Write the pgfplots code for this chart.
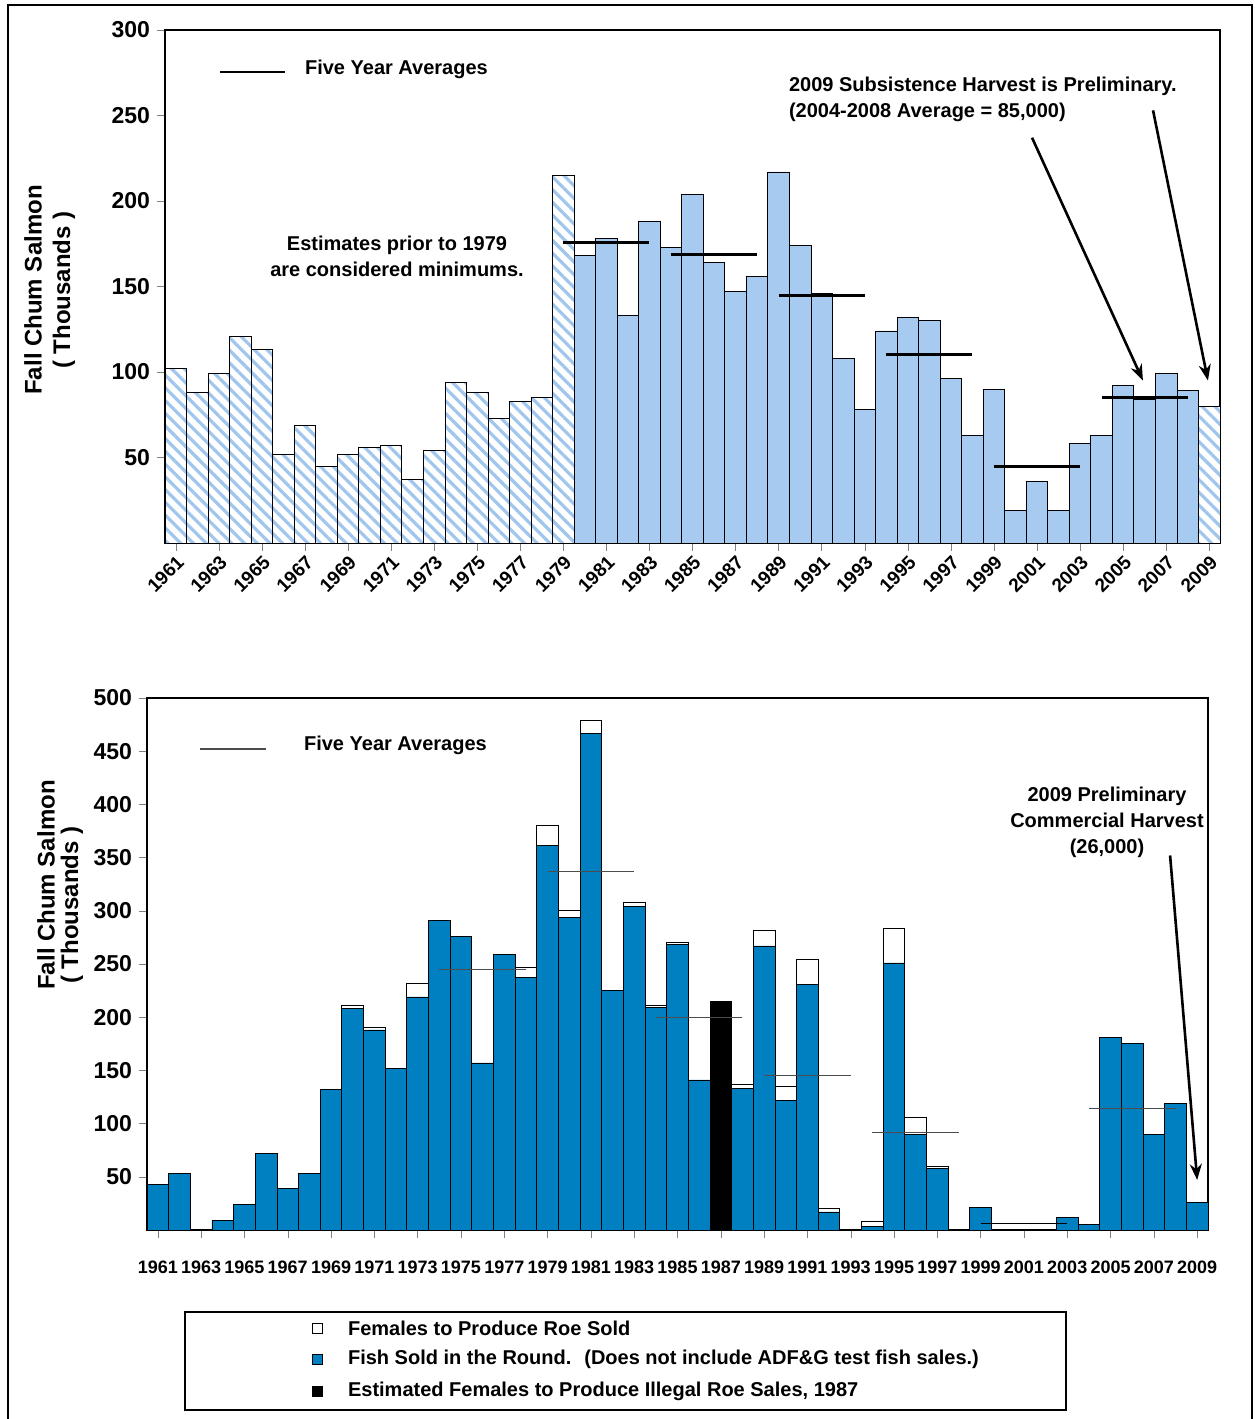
\documentclass[border=0pt]{standalone}
\usepackage{pgfplots}
\pgfplotsset{compat=1.18}
\usepackage{fontspec}
\setmainfont{Liberation Sans}
\usetikzlibrary{patterns.meta,arrows.meta}
\definecolor{lb}{RGB}{166,202,240}
\definecolor{hb}{RGB}{160,198,238}
\definecolor{db}{RGB}{0,128,192}
\begin{document}
\begin{tikzpicture}
\begin{scope}[x=0.5pt,y=-0.5pt,shift={(0pt,709.5pt)}]
\path[use as bounding box] (0,0) rectangle (1254,1419);
\draw[line width=0.8pt] (8,1419) -- (8,5) -- (1252,5) -- (1252,1419);
\node[rotate=90,font=\bfseries\fontsize{12}{14}\selectfont] at (33,290) {Fall Chum Salmon};
\node[rotate=90,font=\bfseries\fontsize{12}{14}\selectfont] at (64,290) {( Thousands )};
\node[rotate=90,font=\bfseries\fontsize{12}{14}\selectfont] at (46,885) {Fall Chum Salmon};
\node[rotate=90,font=\bfseries\fontsize{12}{14}\selectfont] at (72,905) {( Thousands )};
\draw[line width=1.3pt] (220,72) -- (285,72);
\node[anchor=west,font=\bfseries\fontsize{10}{12}\selectfont] at (298,69) {Five Year Averages};
\node[align=center,font=\bfseries\fontsize{10}{13}\selectfont] at (397,256) {Estimates prior to 1979\\are considered minimums.};
\node[anchor=west,font=\bfseries\fontsize{10}{12}\selectfont] at (782,86) {2009 Subsistence Harvest is Preliminary.};
\node[anchor=west,font=\bfseries\fontsize{10}{12}\selectfont] at (782,112) {(2004-2008 Average = 85,000)};
\draw[gray!60!black,line width=0.6pt] (200,749) -- (266,749);
\node[anchor=west,font=\bfseries\fontsize{10}{12}\selectfont] at (297,745) {Five Year Averages};
\node[align=center,font=\bfseries\fontsize{10}{13}\selectfont] at (1107,822) {2009 Preliminary\\Commercial Harvest\\(26,000)};
\draw[line width=0.6pt] (185,1312) rectangle (1066,1410);
\draw[line width=0.4pt,fill=white] (312,1323) rectangle (322,1333);
\draw[line width=0.4pt,fill=db] (312,1354) rectangle (322,1364);
\draw[line width=0.4pt,fill=black] (312,1386) rectangle (322,1396);
\node[anchor=west,font=\bfseries\fontsize{10}{12}\selectfont] at (341,1328) {Females to Produce Roe Sold};
\node[anchor=west,font=\bfseries\fontsize{10}{12}\selectfont] at (341,1359) {Fish Sold in the Round.~ (Does not include ADF\&G test fish sales.)};
\node[anchor=west,font=\bfseries\fontsize{10}{12}\selectfont] at (341,1391) {Estimated Females to Produce Illegal Roe Sales, 1987};
\end{scope}
% top axis
\begin{axis}[at={(82.5pt,438pt)},anchor=south west,scale only axis,
 width=527.5pt,height=256.5pt,xmin=1960.5,xmax=2009.5,ymin=0,ymax=300,
 ytick={50,100,...,300},xtick={1961,1963,...,2009},
 xtick pos=bottom,ytick pos=left,
 tick align=outside,major tick length=4pt,
 /pgf/number format/assume math mode=true,
 /pgf/number format/1000 sep={},
 yticklabel style={font=\bfseries\fontsize{11.5}{13}\selectfont},
 xticklabel style={font=\bfseries\fontsize{9.5}{11}\selectfont,rotate=45,anchor=north east,inner sep=1pt},
 axis line style={line width=0.6pt},clip=false]
\addplot[ybar,bar width=1,bar shift=0pt,draw=black,line width=0.4pt,fill=white,
 postaction={pattern={Lines[angle=-45,distance=4.5pt,line width=1.6pt]},pattern color=hb}]
 coordinates {(1961,102)(1962,88)(1963,99)(1964,121)(1965,113)(1966,52)(1967,69)(1968,45)(1969,52)(1970,56)(1971,57)(1972,37)(1973,54)(1974,94)(1975,88)(1976,73)(1977,83)(1978,85)(1979,215)(2009,80)};
\addplot[ybar,bar width=1,bar shift=0pt,draw=black,line width=0.4pt,fill=lb]
 coordinates {(1980,168)(1981,178)(1982,133)(1983,188)(1984,173)(1985,204)(1986,164)(1987,147)(1988,156)(1989,217)(1990,174)(1991,146)(1992,108)(1993,78)(1994,124)(1995,132)(1996,130)(1997,96)(1998,63)(1999,90)(2000,19)(2001,36)(2002,19)(2003,58)(2004,63)(2005,92)(2006,84)(2007,99)(2008,89)};
\addplot[black,line width=1.5pt] coordinates {(1979,176)(1983,176)};
\addplot[black,line width=1.5pt] coordinates {(1984,169)(1988,169)};
\addplot[black,line width=1.5pt] coordinates {(1989,145)(1993,145)};
\addplot[black,line width=1.5pt] coordinates {(1994,110)(1998,110)};
\addplot[black,line width=1.5pt] coordinates {(1999,45)(2003,45)};
\addplot[black,line width=1.5pt] coordinates {(2004,85)(2008,85)};
\draw[line width=1.3pt,-{Stealth[length=8pt,width=6pt]}] (axis cs:2000.77,237) -- (axis cs:2005.92,95);
\draw[line width=1.3pt,-{Stealth[length=8pt,width=6pt]}] (axis cs:2006.39,253) -- (axis cs:2008.94,95);
\end{axis}
% bottom axis
\begin{axis}[at={(73.5pt,94.5pt)},anchor=south west,scale only axis,
 width=530.5pt,height=266pt,xmin=1960.5,xmax=2009.5,ymin=0,ymax=500,
 ytick={50,100,...,500},xtick={1961,1963,...,2009},
 xtick pos=bottom,ytick pos=left,
 tick align=outside,major tick length=4pt,
 /pgf/number format/assume math mode=true,
 /pgf/number format/1000 sep={},
 yticklabel style={font=\bfseries\fontsize{11.5}{13}\selectfont},
 xticklabel style={font=\bfseries\fontsize{9}{11}\selectfont,yshift=-8pt,inner xsep=0pt},
 axis line style={line width=0.6pt},clip=false]
\addplot[ybar,bar width=1,bar shift=0pt,draw=black,line width=0.4pt,fill=white]
 coordinates {(1970,211)(1971,190)(1973,232)(1978,247)(1979,380)(1980,300)(1981,479)(1983,308)(1984,211)(1985,270)(1988,137)(1989,282)(1990,135)(1991,254)(1992,20)(1994,8)(1995,283)(1996,106)(1997,60)};
\addplot[ybar,bar width=1,bar shift=0pt,draw=black,line width=0.4pt,fill=db]
 coordinates {(1961,43)(1962,53)(1964,9)(1965,24)(1966,72)(1967,39)(1968,53)(1969,132)(1970,208)(1971,188)(1972,152)(1973,219)(1974,291)(1975,276)(1976,157)(1977,259)(1978,237)(1979,361)(1980,294)(1981,467)(1982,225)(1983,304)(1984,209)(1985,268)(1986,141)(1988,133)(1989,267)(1990,122)(1991,231)(1992,17)(1994,3)(1995,251)(1996,90)(1997,58)(1999,21)(2003,12)(2004,5)(2005,181)(2006,175)(2007,90)(2008,119)(2009,26)};
\addplot[ybar,bar width=1,bar shift=0pt,draw=black,line width=0.4pt,fill=black]
 coordinates {(1987,215)};
\addplot[gray!60!black,line width=0.6pt] coordinates {(1974,245)(1978,245)};
\addplot[gray!60!black,line width=0.6pt] coordinates {(1979,337)(1983,337)};
\addplot[gray!60!black,line width=0.6pt] coordinates {(1984,200)(1988,200)};
\addplot[gray!60!black,line width=0.6pt] coordinates {(1989,145)(1993,145)};
\addplot[gray!60!black,line width=0.6pt] coordinates {(1994,92)(1998,92)};
\addplot[black,line width=0.6pt] coordinates {(1999,6)(2003,6)};
\addplot[gray!60!black,line width=0.6pt] coordinates {(2004,114)(2008,114)};
\draw[line width=1.3pt,-{Stealth[length=8pt,width=6pt]}] (axis cs:2007.75,352) -- (axis cs:2009.0,47);
\end{axis}
\end{tikzpicture}
\end{document}
